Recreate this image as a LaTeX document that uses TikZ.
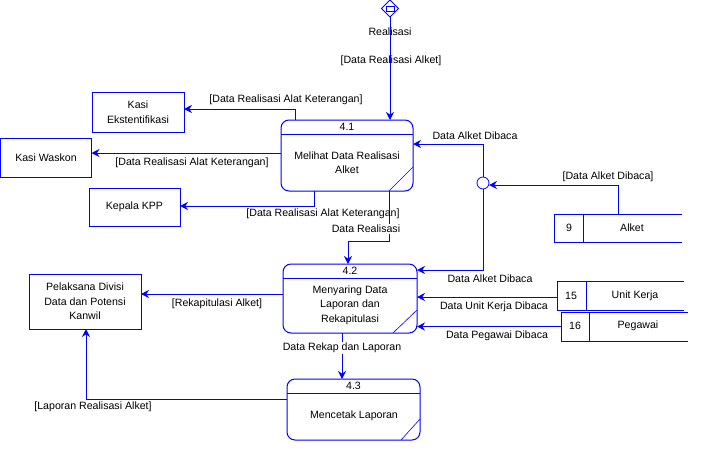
\documentclass[tikz,border=0pt]{standalone}
\usepackage{fontspec}
\setmainfont{Liberation Sans}
\usetikzlibrary{arrows.meta,shapes.geometric}
\definecolor{dfdblue}{RGB}{0,0,255}
\begin{document}
\begin{tikzpicture}[x=1pt,y=-1pt,
  font=\fontsize{10.6}{14.5}\selectfont,
  line/.style={draw=dfdblue,line width=1pt},
  flow/.style={line,-{Stealth[length=8pt,width=8pt]}},
  proc/.style={line,rectangle,rounded corners=8pt,inner sep=0pt,outer sep=0pt},
  entity/.style={line,rectangle,inner sep=0pt,outer sep=0pt,align=center},
  storebox/.style={rectangle,inner sep=0pt,outer sep=0pt},
  txt/.style={inner sep=0pt,align=center,text=black},
  maskedtxt/.style={txt,fill=white,inner ysep=1.5pt},
]
\useasboundingbox (0,0) rectangle (715,451);

% ---- processes ----
\node[proc,minimum width=132pt,minimum height=71pt] (p41) at (347,155.5) {};
\node[proc,minimum width=134pt,minimum height=69pt] (p42) at (350,298.5) {};
\node[proc,minimum width=133pt,minimum height=61pt] (p43) at (353.5,409.5) {};
\foreach \p in {p41,p42,p43}
  \draw[line] ([yshift=-14pt]\p.north west) -- ([yshift=-14pt]\p.north east);
\draw[line,line width=0.6pt] ([xshift=-24pt]p41.south east) -- ([yshift=24pt]p41.south east);
\draw[line,line width=0.6pt] ([xshift=-24pt]p42.south east) -- ([yshift=23pt]p42.south east);
\draw[line,line width=0.6pt] ([xshift=-19pt]p43.south east) -- ([yshift=21pt]p43.south east);

\node[txt] (p41id) at (347,127) {4.1};
\node[txt] (p41tx) at (347,162.5) {Melihat Data Realisasi\\Alket};
\node[txt] (p42id) at (350,271) {4.2};
\node[txt] (p42tx) at (350,305) {Menyaring Data\\Laporan dan\\Rekapitulasi};
\node[txt] (p43id) at (353.5,386) {4.3};
\node[txt] (p43tx) at (354,416) {Mencetak Laporan};

% ---- external entities ----
\node[entity,minimum width=92pt,minimum height=40pt] (ke) at (138,112) {Kasi\\Ekstentifikasi};
\node[entity,minimum width=91pt,minimum height=39pt] (kw) at (46,157.5) {Kasi Waskon};
\node[entity,minimum width=91pt,minimum height=38pt] (kpp) at (134.5,207) {Kepala KPP};
\node[entity,minimum width=112pt,minimum height=55pt] (pel) at (85,301.5) {Pelaksana Divisi\\Data dan Potensi\\Kanwil};

% ---- data stores ----
\node[storebox,minimum width=128pt,minimum height=28pt] (s9) at (618,228) {};
\node[storebox,minimum width=127pt,minimum height=29pt] (s15) at (620.5,295.5) {};
\node[storebox,minimum width=127pt,minimum height=29pt] (s16) at (624.5,326.5) {};
\foreach \s/\d in {s9/583,s15/586,s16/589}{
  \draw[line] (\s.north east) -- (\s.north west) -- (\s.south west) -- (\s.south east);
  \draw[line] (\s.north -| \d,0) -- (\s.south -| \d,0);
}
\node[txt] (s9n) at (569,228) {9};
\node[txt] (s9t) at (632,228) {Alket};
\node[txt] (s15n) at (571,296) {15};
\node[txt] (s15t) at (635,296) {Unit Kerja};
\node[txt] (s16n) at (575,326) {16};
\node[txt] (s16t) at (638,326) {Pegawai};

% ---- trigger and junction ----
\node[line,diamond,minimum width=17pt,minimum height=17pt,inner sep=0pt,outer sep=0pt] (trig) at (390,8.5) {};
\node[line,rectangle,minimum width=8pt,minimum height=5pt,inner sep=0pt,line width=0.8pt] (trigbox) at (390,8.5) {};
\node[line,circle,minimum size=12pt,inner sep=0pt,outer sep=0pt,line width=0.8pt] (junc) at (483,183) {};

% ---- flows ----
\draw[flow] (trig.south) -- (trig.south |- p41.north);
\draw[flow] (p41.north -| 295,0) |- (ke.east |- 0,109);
\draw[flow] (p41.west |- 0,153) -- (kw.east |- 0,153);
\draw[flow] (p41.south -| 314,0) |- (kpp.east |- 0,206);
\draw[flow] (p41.south -| 389,0) -- (389,241) -| (p42.north -| 348,0);
\draw[flow] (s9.north) |- (junc.east |- 0,185);
\draw[flow] (junc.north) |- (p41.east |- 0,144);
\draw[flow] (junc.south) |- (p42.east |- 0,270);
\draw[flow] (s15.west |- 0,297) -- (p42.east |- 0,297);
\draw[flow] (s16.west) -- (p42.east |- s16.west);
\draw[flow] (p42.west |- 0,294) -- (pel.east |- 0,294);
\draw[flow] (p42.south -| 342,0) -- (p43.north -| 342,0);
\draw[flow] (p43.west |- 0,399) -| (pel.south -| 86,0);

% ---- flow labels ----
\node[txt] (l1) at (390,32) {Realisasi};
\node[txt] (l2) at (391,61) {[Data Realisasi Alket]};
\node[txt] (l3) at (286,100) {[Data Realisasi Alat Keterangan]};
\node[txt] (l4) at (192,163) {[Data Realisasi Alat Keterangan]};
\node[txt] (l5) at (323,214) {[Data Realisasi Alat Keterangan]};
\node[maskedtxt] (l6) at (366,229) {Data Realisasi};
\node[txt] (l7) at (475,136) {Data Alket Dibaca};
\node[txt] (l8) at (608,177) {[Data Alket Dibaca]};
\node[txt] (l9) at (490,279) {Data Alket Dibaca};
\node[txt] (l10) at (494,307) {Data Unit Kerja Dibaca};
\node[txt] (l11) at (497,336) {Data Pegawai Dibaca};
\node[txt] (l12) at (217,304) {[Rekapitulasi Alket]};
\node[maskedtxt] (l13) at (342,348) {Data Rekap dan Laporan};
\node[txt] (l14) at (93,407) {[Laporan Realisasi Alket]};
\end{tikzpicture}
\end{document}
